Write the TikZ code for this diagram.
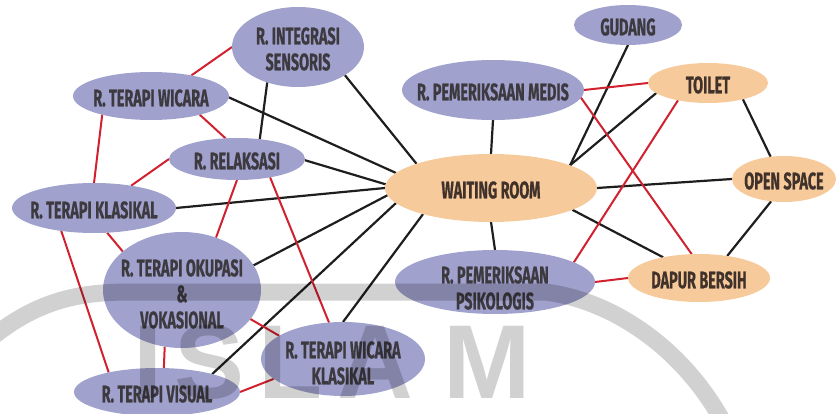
\documentclass[tikz,border=0pt]{standalone}
\usepackage{fontspec}
\newfontfamily\roomfont{Fira Sans}[FakeStretch=0.6, FakeBold=0.6]
\newfontfamily\markfont{Liberation Sans}
\usetikzlibrary{shapes.geometric,backgrounds}

\definecolor{roomblue}{HTML}{A0A1CD}
\definecolor{roomtan}{HTML}{F7CA9C}
\definecolor{linkred}{HTML}{D1212F}
\definecolor{linkblack}{HTML}{1E1E1E}
\definecolor{inkgray}{HTML}{3C393F}
\definecolor{inkbrown}{HTML}{40322A}

\tikzset{
  room/.style={ellipse, draw=none, inner sep=0pt, outer sep=0pt},
  bluerm/.style={room, fill=roomblue},
  tanrm/.style={room, fill=roomtan},
  sz/.style 2 args={minimum width=#1pt, minimum height=#2pt},
  roomtext/.style={font=\roomfont\bfseries\fontsize{24}{26}\selectfont,
    align=center, text=inkgray, inner sep=0pt, yshift=-2pt},
  tantext/.style={roomtext, text=inkbrown},
  blk/.style={draw=linkblack, line width=2.2pt},
  rd/.style={draw=linkred, line width=2pt},
  wmark/.style={font=\markfont\bfseries\fontsize{105}{105}\selectfont,
    text=black, text opacity=0.18, anchor=base, inner sep=0pt},
  wmband/.style={draw=black, draw opacity=0.18, line width=17pt}
}

\begin{document}
\begin{tikzpicture}[x=1pt, y=-1pt]
\useasboundingbox (0,0) rectangle (837,414);

% therapy rooms (left cluster)
\node[bluerm, sz={132}{80}] (int) at (298,47) {};
\node[roomtext] (intL) at (int) {R. INTEGRASI\\SENSORIS};
\node[bluerm, sz={156}{48}] (wic) at (151,96) {};
\node[roomtext] (wicL) at (wic) {R. TERAPI WICARA};
\node[bluerm, sz={136}{42}] (rel) at (237,159) {};
\node[roomtext] (relL) at (rel) {R. RELAKSASI};
\node[bluerm, sz={164}{50}] (kla) at (94,208) {};
\node[roomtext] (klaL) at (kla) {R. TERAPI KLASIKAL};
\node[bluerm, sz={158}{116}] (oku) at (182,290) {};
\node[roomtext, yshift=-2pt] (okuL) at (oku) {R. TERAPI OKUPASI\\\&\\VOKASIONAL};
\node[bluerm, sz={166}{48}] (vis) at (157,392) {};
\node[roomtext] (visL) at (vis) {R. TERAPI VISUAL};
\node[bluerm, sz={164}{74}] (wkl) at (343,359) {};
\node[roomtext, yshift=-2pt] (wklL) at (wkl) {R. TERAPI WICARA\\KLASIKAL};

% central and service rooms
\node[tanrm, sz={212}{68}] (wr) at (491,188) {};
\node[tantext] (wrL) at (wr) {WAITING ROOM};
\node[bluerm, sz={182}{60}] (med) at (493,90) {};
\node[roomtext] (medL) at (med) {R. PEMERIKSAAN MEDIS};
\node[bluerm, sz={200}{64}] (psi) at (495,282) {};
\node[roomtext, yshift=-4pt] (psiL) at (psi) {R. PEMERIKSAAN\\PSIKOLOGIS};
\node[bluerm, sz={108}{40}] (gud) at (628,25) {};
\node[roomtext] (gudL) at (gud) {GUDANG};
\node[tanrm, sz={120}{40}] (toi) at (708,83) {};
\node[tantext] (toiL) at (toi) {TOILET};
\node[tanrm, sz={104}{46}] (ops) at (784,179) {};
\node[tantext] (opsL) at (ops) {OPEN SPACE};
\node[tanrm, sz={142}{48}] (dap) at (699,278) {};
\node[tantext] (dapL) at (dap) {DAPUR BERSIH};

\begin{pgfonlayer}{background}
  % black links
  \draw[blk] (int.-31) -- (wr.162);
  \draw[blk] (wic.-1) -- (wr.171);
  \draw[blk] (rel.-1) -- (wr.178);
  \draw[blk] (kla.0) -- (wr.180);
  \draw[blk] (oku.19) -- (wr.184);
  \draw[blk] (vis.18) -- (wr.189);
  \draw[blk] (wkl.90) -- (wr.201);
  \draw[blk] (int.229) -- (rel.41);
  \draw[blk] (med.south) -- (wr.north);
  \draw[blk] (wr.south) -- (psi.north);
  \draw[blk] (gud.south) -- (wr.16);
  \draw[blk] (toi.191) -- (wr.16);
  \draw[blk] (wr.0) -- (ops.180);
  \draw[blk] (wr.-15) -- (dap.150);
  \draw[blk] (toi.-25) -- (ops.121);
  \draw[blk] (ops.240) -- (dap.38);
  % red links
  \draw[rd] (med.east) -- (toi.west);
  \draw[rd] (med.-5) -- (dap.107);
  \draw[rd] (psi.14) -- (toi.210);
  \draw[rd] (psi.east) -- (dap.west);
  \draw[rd] (int.west) -- (wic.27);
  \draw[rd] (wic.-21) -- (rel.119);
  \draw[rd] (wic.201) -- (kla.north);
  \draw[rd] (rel.west) -- (kla.31);
  \draw[rd] (rel.south) -- (oku.57);
  \draw[rd] (rel.-29) -- (wkl.111);
  \draw[rd] (kla.-62) -- (oku.147);
  \draw[rd] (kla.215) -- (vis.158);
  \draw[rd] (oku.253) -- (vis.74);
  \draw[rd] (oku.-23) -- (wkl.160);
  \draw[rd] (vis.east) -- (wkl.196);
\end{pgfonlayer}

% faint watermark over the plan
\draw[wmband] (-5,335) .. controls (40,300) and (80,292) .. (130,292)
  -- (545,292) .. controls (610,300) and (680,345) .. (722,420);
\node[wmark] (wmI) at (148,398) {I};
\node[wmark] (wmS) at (210,398) {S};
\node[wmark] (wmL) at (291,398) {L};
\node[wmark] (wmA) at (375,398) {A};
\node[wmark] (wmM) at (487,398) {M};
\end{tikzpicture}
\end{document}
